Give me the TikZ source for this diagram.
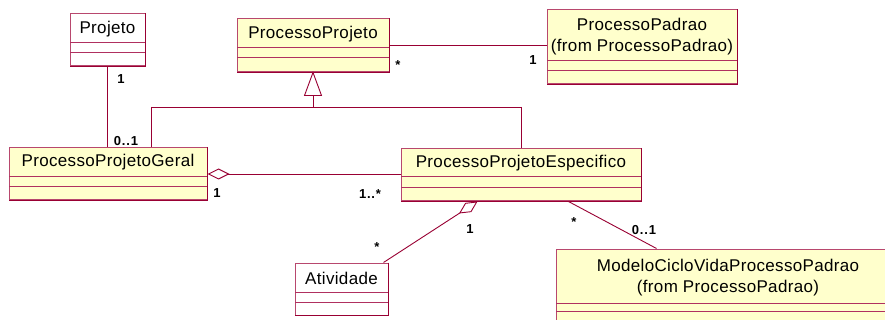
\documentclass[tikz,border=0pt]{standalone}
\usepackage{fontspec}
\setmainfont{Liberation Sans}
\newfontfamily\umlfont{Liberation Sans}[LetterSpace=2]
\newfontfamily\multfont{Liberation Sans}[LetterSpace=6]
\usetikzlibrary{arrows.meta,calc,fit}

\definecolor{umlline}{HTML}{990033}
\definecolor{umledge}{HTML}{B8486E}
\definecolor{umlsep}{HTML}{B03060}
\definecolor{umlfill}{HTML}{FFFFCC}

\tikzset{
  classframe/.style={draw=umledge, line width=1pt, inner sep=0pt},
  classname/.style={font=\umlfont\fontsize{17}{20}\selectfont, align=center, inner sep=0pt},
  mult/.style={font=\multfont\fontsize{13}{15}\selectfont\bfseries, inner sep=0pt},
  assoc/.style={draw=umlline, line width=0.9pt},
  aggr/.style={assoc, {Diamond[open, length=22pt, width=11pt, line width=0.9pt]}-},
}

% class box: name, x1, y1, x2, y2, first separator, second separator, fill
\newcommand\umlclass[8]{%
  \node[classframe, fill=#8, fit={(#2,#3) (#4,#5)}] (#1) {};
  \draw[draw=umlsep, line width=1pt] (#2,#6) -- (#4,#6) (#2,#7) -- (#4,#7);
  \draw[draw=umlline, line width=1.8pt] (#1.north east) -- (#1.south east) -- (#1.south west);
}

\begin{document}
\begin{tikzpicture}[x=1pt, y=-1pt]
  \clip (0,0) rectangle (885,320);
  \fill[white] (0,0) rectangle (885,320);

  % classes
  \umlclass{pj}{70}{14}{145}{66}{43}{53}{white}
  \node[classname] (pj-t) at (107.5,29) {Projeto};

  \umlclass{pp}{237}{19}{389}{72}{48}{58}{umlfill}
  \node[classname] (pp-t) at (313,34) {ProcessoProjeto};

  \umlclass{ppd}{547}{10}{737}{84}{61}{71}{umlfill}
  \node[classname] (ppd-t1) at (642,24) {ProcessoPadrao};
  \node[classname] (ppd-t2) at (642,47) {(from ProcessoPadrao)};

  \umlclass{ppg}{9}{148}{207}{200}{177}{187}{umlfill}
  \node[classname] (ppg-t) at (108,162.5) {ProcessoProjetoGeral};

  \umlclass{ppe}{401}{149}{641}{201}{177}{188}{umlfill}
  \node[classname] (ppe-t) at (521,163) {ProcessoProjetoEspecifico};

  \umlclass{atv}{295}{263}{388}{315}{292}{302}{white}
  \node[classname] (atv-t) at (341.5,278) {Atividade};

  \umlclass{mcv}{556}{249}{900}{340}{303}{311}{umlfill}
  \node[classname] (mcv-t1) at (728,265) {ModeloCicloVidaProcessoPadrao};
  \node[classname] (mcv-t2) at (728,288) {(from ProcessoPadrao)};

  % associations
  \draw[assoc] (pj.south) -- (pj.south |- ppg.north);
  \draw[assoc] (pp.east) -- (pp.east -| ppd.west);
  \draw[assoc] ($(ppe.south west)+(168,0)$) -- ($(mcv.north west)+(101,0)$);

  % generalization
  \coordinate (busL) at (151,107);
  \coordinate (busR) at (521,107);
  \coordinate (triBase) at ($(pp.south)+(0,23)$);
  \draw[assoc] (triBase) -- (triBase |- busL);
  \draw[assoc] (busL) -- (busR);
  \draw[assoc] (busL) -- (busL |- ppg.north);
  \draw[assoc] (busR) -- (busR |- ppe.north);
  \draw[assoc, fill=white, line join=miter] (pp.south) -- ($(triBase)+(-8.5,0)$) -- ($(triBase)+(8.5,0)$) -- cycle;

  % aggregations
  \draw[aggr] (ppg.east) -- (ppg.east -| ppe.west);
  \draw[aggr] ($(ppe.south west)+(77,0)$) -- ($(atv.north west)+(89,0)$);

  % multiplicities
  \node[mult] (m-pj) at (121,79) {1};
  \node[mult] (m-ppg1) at (126,141) {0..1};
  \node[mult] (m-pp) at (398,65) {*};
  \node[mult] (m-ppd) at (533,60) {1};
  \node[mult] (m-ppg2) at (217,193) {1};
  \node[mult] (m-ppe1) at (370,194) {1..*};
  \node[mult] (m-ppe2) at (470,229) {1};
  \node[mult] (m-atv) at (377,247) {*};
  \node[mult] (m-ppe3) at (574,222) {*};
  \node[mult] (m-mcv) at (644,230) {0..1};
\end{tikzpicture}
\end{document}
